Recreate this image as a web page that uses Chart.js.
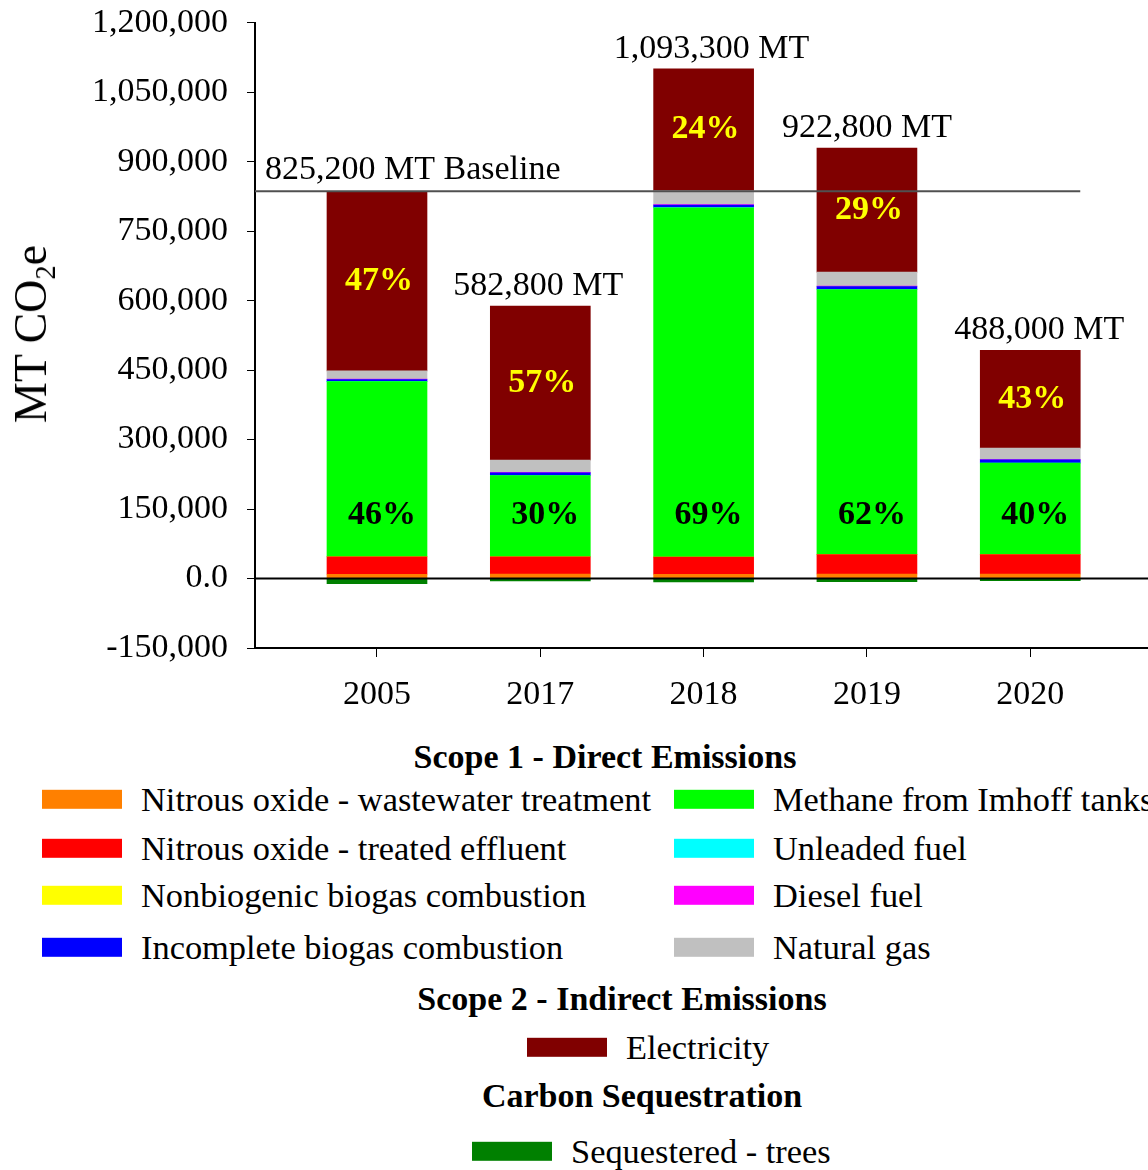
<!DOCTYPE html>
<html>
<head>
<meta charset="utf-8">
<script src="https://cdn.jsdelivr.net/npm/chart.js@4.4.1/dist/chart.umd.min.js"></script>
<style>
  html, body { margin: 0; padding: 0; background: #fff; }
  body { width: 1148px; height: 1170px; overflow: hidden; position: relative;
         font-family: "Liberation Serif", "Times New Roman", serif; color: #000; }
  #chartBox { position: absolute; left: 0; top: 0; width: 1148px; height: 720px; }
  #ytitle { position: absolute; left: 31px; top: 334px; transform: translate(-50%, -50%) rotate(-90deg);
            font-size: 46px; white-space: nowrap; line-height: 1; }
  #ytitle sub { font-size: 0.62em; vertical-align: -0.3em; line-height: 0; }
  .heading { position: absolute; font-weight: bold; font-size: 34px; white-space: nowrap;
             transform: translate(-50%, -50%); line-height: 1; }
  .item { position: absolute; font-size: 34.4px; white-space: nowrap; line-height: 1;
          display: flex; align-items: center; transform: translateY(-50%); }
  .sw { width: 80px; height: 19px; margin-right: 19px; flex: none; }
</style>
</head>
<body>
<div id="chartBox"><canvas id="c" width="1148" height="720"></canvas></div>
<div id="ytitle">MT CO<sub>2</sub>e</div>
<div id="legend"></div>
<script>
// Emissions by source, metric tons CO2e
const years = ['2005', '2017', '2018', '2019', '2020'];

const n2oWastewater = [9300, 9800, 9300, 9800, 9800];
const n2oEffluent   = [37500, 37000, 37000, 42000, 42000];
const nonbiogenic   = [200, 200, 200, 200, 200];
const methaneImhoff = [378000, 175000, 754000, 572000, 197000];
const unleadedFuel  = [500, 500, 500, 500, 500];
const incompleteBio = [4200, 5500, 5500, 6000, 6500];
const dieselFuel    = [1000, 1000, 1000, 1000, 1000];
const naturalGas    = [17500, 26500, 30000, 30000, 24500];
const electricity   = [388000, 332500, 263000, 268000, 211000];
const sequestered   = [-11000, -5200, -7200, -6700, -4500];

const yTickStep = 150000;
const yMin = -150000;
const yMax = 1200000;

// Stacking order, bottom to top
const series = [
  { label: 'Nitrous oxide - wastewater treatment', data: n2oWastewater, color: '#FF8000' },
  { label: 'Nitrous oxide - treated effluent',     data: n2oEffluent,   color: '#FF0000' },
  { label: 'Nonbiogenic biogas combustion',        data: nonbiogenic,   color: '#FFFF00' },
  { label: 'Methane from Imhoff tanks',            data: methaneImhoff, color: '#00FF00' },
  { label: 'Unleaded fuel',                        data: unleadedFuel,  color: '#00FFFF' },
  { label: 'Incomplete biogas combustion',         data: incompleteBio, color: '#0000FF' },
  { label: 'Diesel fuel',                          data: dieselFuel,    color: '#FF00FF' },
  { label: 'Natural gas',                          data: naturalGas,    color: '#C0C0C0' },
  { label: 'Electricity',                          data: electricity,   color: '#800000' },
  { label: 'Sequestered - trees',                  data: sequestered,   color: '#008000' }
];

const netTotal = years.map((_, i) => series.reduce((s, d) => s + d.data[i], 0));
const grossTotal = years.map((_, i) => series.reduce((s, d) => s + Math.max(0, d.data[i]), 0));
const fmt = v => Math.round(v).toLocaleString('en-US');

const FONT = '"Liberation Serif", "Times New Roman", serif';

const annotate = {
  id: 'annotate',
  afterDatasetsDraw(chart) {
    const { ctx, chartArea: a, scales: { x, y } } = chart;
    ctx.save();

    // zero line across the plot
    const y0 = y.getPixelForValue(0);
    ctx.strokeStyle = '#000';
    ctx.lineWidth = 2;
    ctx.beginPath(); ctx.moveTo(a.left, y0); ctx.lineTo(a.right, y0); ctx.stroke();

    // baseline reference line at the 2005 bar top
    const yb = y.getPixelForValue(grossTotal[0]);
    const lastRight = x.getPixelForValue(years.length - 1) + 50;
    ctx.strokeStyle = '#505050';
    ctx.lineWidth = 2;
    ctx.beginPath(); ctx.moveTo(a.left, yb); ctx.lineTo(lastRight, yb); ctx.stroke();

    // totals above bars
    const nudge = [0, -2, 8, 0, 9];
    ctx.fillStyle = '#000';
    ctx.font = '34px ' + FONT;
    ctx.textBaseline = 'middle';
    years.forEach((yr, i) => {
      const top = y.getPixelForValue(grossTotal[i]);
      if (i === 0) {
        ctx.textAlign = 'left';
        ctx.fillText(fmt(netTotal[i]) + ' MT Baseline', a.left + 10, top - 21);
      } else {
        ctx.textAlign = 'center';
        ctx.fillText(fmt(netTotal[i]) + ' MT', x.getPixelForValue(i) + nudge[i], top - 20);
      }
    });

    // share labels
    ctx.font = 'bold 34px ' + FONT;
    ctx.textAlign = 'center';
    years.forEach((yr, i) => {
      const cx = x.getPixelForValue(i) + 2;
      const elecBase = grossTotal[i] - electricity[i];
      const ye = (y.getPixelForValue(grossTotal[i]) + y.getPixelForValue(elecBase)) / 2;
      ctx.fillStyle = '#FFFF00';
      ctx.fillText(Math.round(electricity[i] / netTotal[i] * 100) + '%', cx, ye);
      ctx.fillStyle = '#000';
      ctx.fillText(Math.round(methaneImhoff[i] / netTotal[i] * 100) + '%', cx + 3, y.getPixelForValue(137000));
    });
    ctx.restore();
  }
};

new Chart(document.getElementById('c'), {
  type: 'bar',
  data: {
    datasets: series.map(s => ({
      label: s.label,
      data: s.data.map((v, i) => ({ x: i, y: v })),
      backgroundColor: s.color,
      borderWidth: 0,
      barThickness: 100
    }))
  },
  options: {
    responsive: false,
    animation: false,
    devicePixelRatio: 1,
    layout: { padding: { top: 22.7, left: 0, right: 0, bottom: 0 } },
    plugins: { legend: { display: false }, tooltip: { enabled: false } },
    scales: {
      x: {
        type: 'linear',
        min: -0.747,
        max: 4.721,
        stacked: true,
        offset: false,
        afterBuildTicks(s) { s.ticks = years.map((_, i) => ({ value: i })); },
        afterFit(s) { s.height = 72; s.paddingLeft = 0; s.paddingRight = 0; },
        ticks: { callback: v => years[v], color: '#000', font: { family: FONT, size: 34 },
                 padding: 18, autoSkip: false, maxRotation: 0 },
        grid: { offset: false, drawOnChartArea: false, tickLength: 9, tickColor: '#000', color: '#000' },
        border: { color: '#000', width: 2 }
      },
      y: {
        min: yMin,
        max: yMax,
        stacked: true,
        afterFit(s) { s.width = 255; s.paddingTop = 0; s.paddingBottom = 0; },
        ticks: { stepSize: yTickStep, color: '#000', font: { family: FONT, size: 34 }, padding: 19,
                 callback: v => v === 0 ? '0.0' : fmt(v) },
        grid: { drawOnChartArea: false, tickLength: 8, tickColor: '#000', color: '#000' },
        border: { color: '#000', width: 2 }
      }
    }
  },
  plugins: [annotate]
});

// Legend
const legend = document.getElementById('legend');
function heading(text, cx, cy) {
  const d = document.createElement('div');
  d.className = 'heading';
  d.textContent = text;
  d.style.left = cx + 'px';
  d.style.top = cy + 'px';
  legend.appendChild(d);
}
function item(s, left, cy) {
  const d = document.createElement('div');
  d.className = 'item';
  d.style.left = left + 'px';
  d.style.top = cy + 'px';
  const sw = document.createElement('span');
  sw.className = 'sw';
  sw.style.background = s.color;
  const t = document.createElement('span');
  t.textContent = s.label;
  d.appendChild(sw);
  d.appendChild(t);
  legend.appendChild(d);
}
const rowsY = [799, 848, 895, 947];
heading('Scope 1 - Direct Emissions', 605, 757);
[0, 1, 2, 5].forEach((k, r) => item(series[k], 42, rowsY[r]));
[3, 4, 6, 7].forEach((k, r) => item(series[k], 674, rowsY[r]));
heading('Scope 2 - Indirect Emissions', 622, 999);
item(series[8], 527, 1047);
heading('Carbon Sequestration', 642, 1096);
item(series[9], 472, 1151);
</script>
</body>
</html>
